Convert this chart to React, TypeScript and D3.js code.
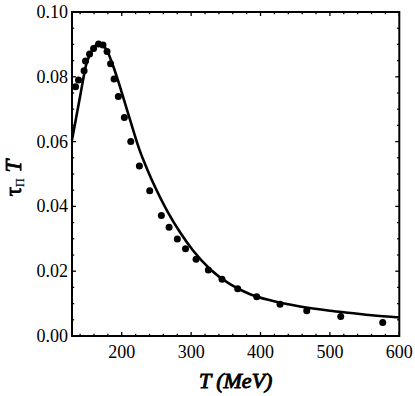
import React from 'react';
import * as d3 from 'd3';

const W = 415;
const H = 396;
const MARGIN = { top: 12, right: 15.7, bottom: 60, left: 72 };

// lattice points (T in MeV, tau_Pi * T)
const dotT = [133.4, 137.7, 145.7, 147.8, 153.6, 159.4, 166.6, 173, 178.8, 183.9, 188.9, 195.1, 203.7, 213, 225.4, 240.3, 257.1, 268.2, 280.1, 291.9, 307.1, 324.8, 344.5, 367.1, 394.5, 428.1, 466.6, 515.6, 576.1];
const dotY = [0.0769, 0.079, 0.0819, 0.0849, 0.087, 0.0887, 0.0901, 0.0898, 0.0878, 0.084, 0.0793, 0.0739, 0.0674, 0.06, 0.0525, 0.0448, 0.0372, 0.0336, 0.0299, 0.0269, 0.0237, 0.0204, 0.0175, 0.0146, 0.0121, 0.0098, 0.0078, 0.006, 0.0042];

// model curve
const curveT = [128.3, 131, 140, 149, 159, 167, 178, 188, 197.5, 212, 226, 236, 248, 265, 284, 303, 327, 356, 385, 414, 457, 500, 530, 560, 600];
const curveY = [0.0605, 0.0636, 0.074, 0.084, 0.0888, 0.0903, 0.0884, 0.0831, 0.0769, 0.0667, 0.0572, 0.0518, 0.046, 0.0388, 0.032, 0.0263, 0.0207, 0.016, 0.0129, 0.011, 0.0091, 0.0078, 0.0071, 0.0064, 0.0057];

const xMajor = [200, 300, 400, 500, 600];
const xMinor = d3.range(140, 600, 20).filter(v => v % 100 !== 0);
const yMajor = [0, 0.02, 0.04, 0.06, 0.08, 0.1];
const yMinor = d3.range(0.005, 0.1, 0.005).filter(v => Math.round(v * 1000) % 20 !== 0);

const FONT = 'Liberation Serif';

export default function App() {
    const x = d3.scaleLinear().domain([128.3, 600]).range([MARGIN.left, W - MARGIN.right]);
    const y = d3.scaleLinear().domain([0, 0.1]).range([H - MARGIN.bottom, MARGIN.top]);
    const x0 = x.range()[0], x1 = x.range()[1];
    const y0 = y.range()[0], y1 = y.range()[1];

    const line = d3.line<number>()
        .x((_, i) => x(curveT[i]))
        .y(d => y(d))
        .curve(d3.curveMonotoneX);

    const majorLen = 4;
    const minorLen = 2.2;

    return (
        <svg width={W} height={H} style={{ position: 'absolute', left: 0, top: 0, background: '#fff' }}>
            {/* ticks on all four sides, pointing inward */}
            <g stroke="#000" strokeWidth={1.3}>
                {xMajor.map(v => (
                    <g key={'xm' + v}>
                        <line x1={x(v)} x2={x(v)} y1={y0} y2={y0 - majorLen} />
                        <line x1={x(v)} x2={x(v)} y1={y1} y2={y1 + majorLen} />
                    </g>
                ))}
                {xMinor.map(v => (
                    <g key={'xn' + v}>
                        <line x1={x(v)} x2={x(v)} y1={y0} y2={y0 - minorLen} />
                        <line x1={x(v)} x2={x(v)} y1={y1} y2={y1 + minorLen} />
                    </g>
                ))}
                {yMajor.map(v => (
                    <g key={'ym' + v}>
                        <line x1={x0} x2={x0 + majorLen} y1={y(v)} y2={y(v)} />
                        <line x1={x1} x2={x1 - majorLen} y1={y(v)} y2={y(v)} />
                    </g>
                ))}
                {yMinor.map(v => (
                    <g key={'yn' + v}>
                        <line x1={x0} x2={x0 + minorLen} y1={y(v)} y2={y(v)} />
                        <line x1={x1} x2={x1 - minorLen} y1={y(v)} y2={y(v)} />
                    </g>
                ))}
            </g>

            {/* curve */}
            <path d={line(curveY) || ''} fill="none" stroke="#000" strokeWidth={2.6} />

            {/* points */}
            {dotT.map((t, i) => (
                <circle key={i} cx={x(t)} cy={y(dotY[i])} r={3.5} fill="#000" />
            ))}

            {/* frame */}
            <rect x={x0} y={y1} width={x1 - x0} height={y0 - y1} fill="none" stroke="#000" strokeWidth={2} />

            {/* tick labels */}
            <g fontFamily={FONT} fontSize={18} fill="#000">
                {xMajor.map(v => (
                    <text key={'xl' + v} x={x(v)} y={358} textAnchor="middle">{v}</text>
                ))}
                {yMajor.map(v => (
                    <text key={'yl' + v} x={68} y={y(v) + 6} textAnchor="end">{v.toFixed(2)}</text>
                ))}
            </g>

            {/* axis titles (faux bold via stroke) */}
            <text x={(x0 + x1) / 2} y={388} textAnchor="middle" fontFamily={FONT} fontSize={22}
                fontStyle="italic" stroke="#000" strokeWidth={0.9}>T (MeV)</text>
            <text transform={`translate(21,178) rotate(-90)`} textAnchor="middle" fontFamily={FONT}
                fontSize={23} stroke="#000" strokeWidth={0.8}>
                <tspan>τ</tspan>
                <tspan dy={3} fontSize={12} strokeWidth={0.2}>Π</tspan>
                <tspan dy={-3} fontStyle="italic"> T</tspan>
            </text>
        </svg>
    );
}
